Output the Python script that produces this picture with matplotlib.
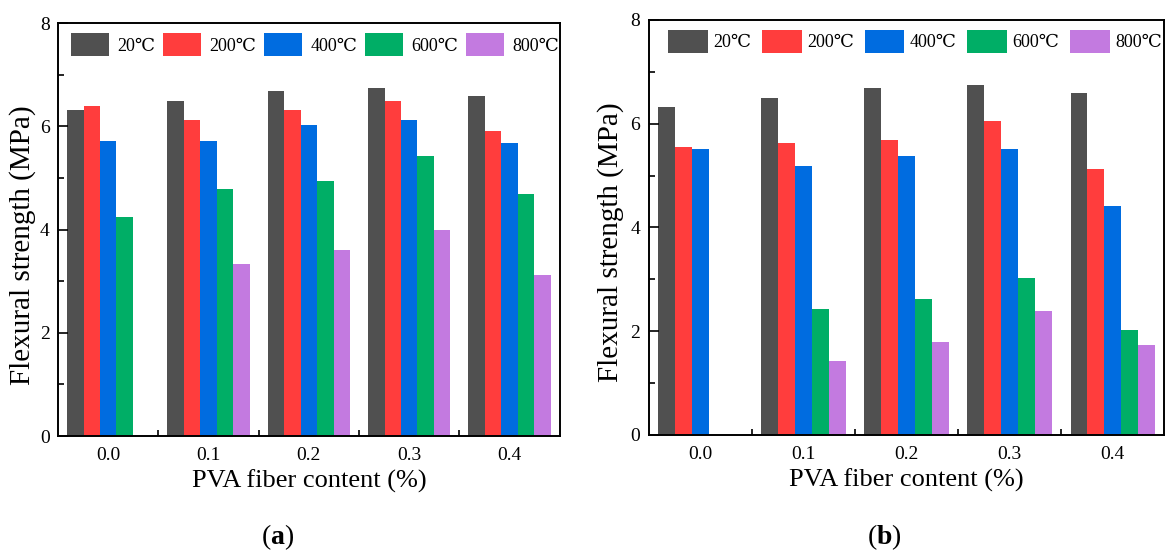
import numpy as np
import matplotlib.pyplot as plt
from matplotlib.ticker import MultipleLocator, FixedLocator

plt.rcParams['font.family'] = ['Liberation Serif', 'DejaVu Serif']
plt.rcParams['mathtext.fontset'] = 'custom'
plt.rcParams['mathtext.rm'] = 'Liberation Serif'
plt.rcParams['mathtext.bf'] = 'Liberation Serif:bold'

fiber = ['0.0', '0.1', '0.2', '0.3', '0.4']
temps = ['20℃', '200℃', '400℃', '600℃', '800℃']
colors = ['#505050', '#FF3D3D', '#006CE0', '#00AE66', '#C37AE0']

# (a) flexural strength, rows = temperature, cols = fiber content
strength_a = [
    [6.32, 6.49, 6.69, 6.75, 6.59],
    [6.39, 6.12, 6.32, 6.49, 5.92],
    [5.71, 5.71, 6.02, 6.12, 5.68],
    [4.24, 4.78, 4.94, 5.43, 4.69],
    [0.00, 3.33, 3.60, 3.99, 3.12],
]
# (b)
strength_b = [
    [6.32, 6.49, 6.68, 6.75, 6.59],
    [5.55, 5.62, 5.68, 6.05, 5.12],
    [5.52, 5.19, 5.37, 5.52, 4.42],
    [0.00, 2.43, 2.63, 3.03, 2.03],
    [0.00, 1.43, 1.80, 2.38, 1.73],
]

fig = plt.figure(figsize=(11.75, 5.52), dpi=100)
ax_a = fig.add_axes([0.0494, 0.210, 0.427, 0.748])
ax_b = fig.add_axes([0.552, 0.212, 0.439, 0.752])

w = 0.164
x = np.arange(len(fiber))


def draw(ax, data, tag, xc, lab_x, lab_y, leg_x, legsize, hlen, hpad, colsp):
    for i, (vals, lab) in enumerate(zip(data, temps)):
        ax.bar(x + (i - 2) * w, vals, w, color=colors[i], label=lab, linewidth=0)
    ax.set_xlim(-0.5, 4.5)
    ax.set_ylim(0, 8)
    ax.yaxis.set_major_locator(MultipleLocator(2))
    ax.yaxis.set_minor_locator(MultipleLocator(1))
    ax.xaxis.set_major_locator(FixedLocator(x))
    ax.set_xticklabels(fiber)
    ax.xaxis.set_minor_locator(FixedLocator(x[:-1] + 0.5))
    ax.tick_params(axis='x', which='major', length=0, labelsize=14, pad=8)
    ax.tick_params(axis='x', which='minor', direction='in', length=4, width=1.2, top=False)
    ax.tick_params(axis='y', which='major', direction='in', length=7, width=1.2, labelsize=14, pad=6)
    ax.tick_params(axis='y', which='minor', direction='in', length=4, width=1.2)
    for s in ax.spines.values():
        s.set_linewidth(1.4)
    ax.set_xlabel('PVA fiber content (%)', fontsize=19, labelpad=4)
    ax.set_ylabel('Flexural strength (MPa)', fontsize=21)
    ax.yaxis.set_label_coords(lab_x, lab_y)
    ax.legend(loc='upper left', bbox_to_anchor=(leg_x, 1.0), ncol=5, frameon=False,
              fontsize=legsize, handlelength=hlen, handleheight=1.6, handletextpad=hpad,
              columnspacing=colsp, borderaxespad=0.15)
    fig.text(xc, 0.027, tag, fontsize=20, ha='center', va='center')


draw(ax_a, strength_a, r'$\mathrm{(}\mathbf{a}\mathrm{)}$', 0.236, -0.043, 0.463,
     0.006, 13, 2.1, 0.45, 0.45)
draw(ax_b, strength_b, r'$\mathrm{(}\mathbf{b}\mathrm{)}$', 0.753, -0.047, 0.465,
     0.018, 13, 2.2, 0.3, 0.6)

fig.savefig('out.png', dpi=100)
